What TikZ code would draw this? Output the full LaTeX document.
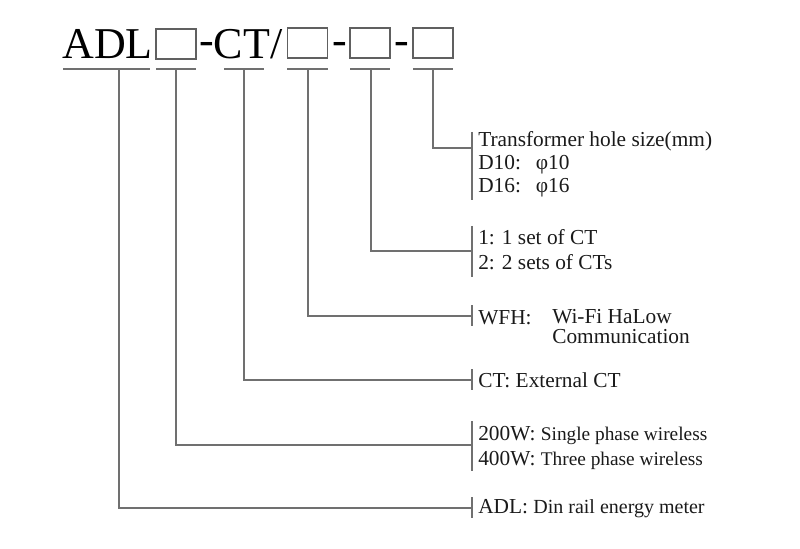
\documentclass[tikz,border=0pt]{standalone}
\usepackage{fontspec}
\setmainfont{Liberation Serif}
\definecolor{linegray}{HTML}{707070}
\definecolor{boxgray}{HTML}{606060}
\definecolor{ink}{HTML}{1A1A1A}
\newcommand{\descfont}{\fontsize{14.5}{17}\selectfont}
\newcommand{\adlfont}{\fontsize{15}{18}\selectfont}
\begin{document}
\begin{tikzpicture}[x=0.75pt,y=-0.75pt,
  conn/.style={draw=linegray,line width=1pt},
  uline/.style={draw=linegray,line width=1pt},
  codebox/.style={draw=boxgray,line width=1.1pt,minimum width=30pt,minimum height=22.5pt,inner sep=0pt},
  title/.style={font=\fontsize{33}{36}\selectfont,inner sep=0pt,anchor=base west,text=black},
  dashmark/.style={font=\fontsize{33}{36}\selectfont,inner sep=0pt,anchor=base,text=black},
  key/.style={font=\fontsize{16}{19}\selectfont,inner sep=0pt,anchor=base west,text=ink}
]
\useasboundingbox (0,0) rectangle (800,549);
% title
\node[title] (adl) at (62,59) {ADL};
\node[codebox] (b1) at (176,44) {};
\node[title] (ct) at (199,59) {\raisebox{3.7pt}{-}CT/};
\node[codebox] (b2) at (307.5,43) {};
\node[dashmark] (d1) at (340,59) {\raisebox{3.7pt}{-}};
\node[codebox] (b3) at (370,43) {};
\node[dashmark] (d2) at (402,59) {\raisebox{3.7pt}{-}};
\node[codebox] (b4) at (433,43) {};
% underlines
\draw[uline] (63,69) -- (150,69);
\draw[uline] (156,69) -- (196,69);
\draw[uline] (224,69) -- (264,69);
\draw[uline] (287,69) -- (328,69);
\draw[uline] (350,69) -- (390,69);
\draw[uline] (413,69) -- (453,69);
% taps
\coordinate (t0) at (119,69);
\coordinate (t1) at (176,69);
\coordinate (t2) at (244,69);
\coordinate (t3) at (308,69);
\coordinate (t4) at (371,69);
\coordinate (t5) at (433,69);
% bracket points
\coordinate (k5) at (472,148);
\coordinate (k4) at (472,251);
\coordinate (k3) at (472,316);
\coordinate (k2) at (472,380);
\coordinate (k1) at (472,445);
\coordinate (k0) at (472,508);
\draw[conn] (t5) |- (k5);
\draw[conn] (t4) |- (k4);
\draw[conn] (t3) |- (k3);
\draw[conn] (t2) |- (k2);
\draw[conn] (t1) |- (k1);
\draw[conn] (t0) |- (k0);
% brackets
\draw[conn] (472,132) -- (472,200);
\draw[conn] (472,226) -- (472,277);
\draw[conn] (472,305) -- (472,326);
\draw[conn] (472,369) -- (472,390);
\draw[conn] (472,421) -- (472,471);
\draw[conn] (472,497) -- (472,518);
% labels
\node[key] (l5a) at (478,147) {Transformer hole size(mm)};
\node[key] (l5b) at (478,170) {D10:\hspace{0.7em}φ10};
\node[key] (l5c) at (478,193) {D16:\hspace{0.7em}φ16};
\node[key] (l4a) at (478,244) {1: 1 set of CT};
\node[key] (l4b) at (478,269) {2: 2 sets of CTs};
\node[key] (l3a) at (478,324) {WFH:};
\node[key,align=left,font=\fontsize{16}{14.5}\selectfont] (l3b) at (552,343) {Wi-Fi HaLow\\Communication};
\node[key] (l2) at (478,387) {CT: External CT};
\node[key] (l1a) at (478,440) {200W: {\descfont Single phase wireless}};
\node[key] (l1b) at (478,465) {400W: {\descfont Three phase wireless}};
\node[key] (l0) at (478,513) {ADL: {\adlfont Din rail energy meter}};
\end{tikzpicture}
\end{document}
